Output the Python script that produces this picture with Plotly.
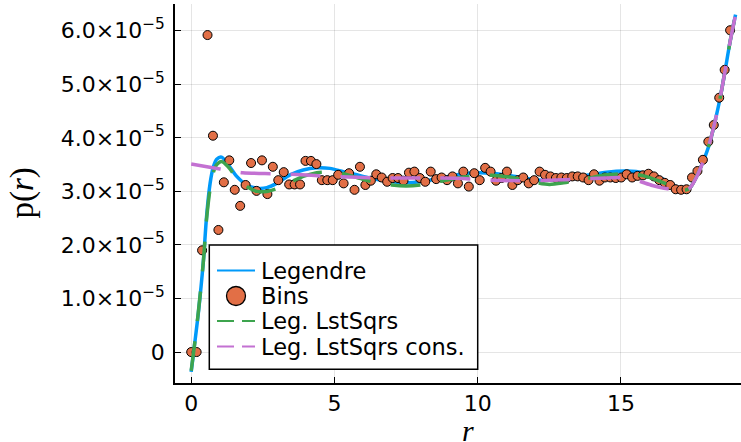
import plotly.graph_objects as go

# ---- data (probability values in units of 1e-5) ----
SCALE = 1e-5
BIN_WIDTH = 0.19

P_BINS = [
    0.00, 0.00, 1.90, 5.92, 4.04, 2.28, 3.17, 3.58, 3.03, 2.73,
    3.12, 3.53, 3.01, 3.58, 2.95, 3.46, 3.21, 3.36, 3.13, 3.13,
    3.13, 3.57, 3.57, 3.51, 3.21, 3.21, 3.21, 3.31, 3.15, 3.34,
    3.03, 3.46, 3.12, 3.20, 3.32, 3.26, 3.18, 3.25, 3.25, 3.20,
    3.35, 3.37, 3.25, 3.18, 3.37, 3.23, 3.26, 3.21, 3.28, 3.15,
    3.37, 3.09, 3.34, 3.21, 3.44, 3.37, 3.20, 3.25, 3.37, 3.12,
    3.21, 3.26, 3.15, 3.21, 3.37, 3.31, 3.28, 3.25, 3.26, 3.25,
    3.28, 3.28, 3.26, 3.21, 3.32, 3.20, 3.26, 3.26, 3.25, 3.26,
    3.32, 3.26, 3.29, 3.30, 3.33, 3.28, 3.21, 3.16, 3.12, 3.04,
    3.03, 3.04, 3.26, 3.38, 3.59, 3.93, 4.24, 4.75, 5.27, 6.01,
]
R_BINS = [BIN_WIDTH * i for i in range(len(P_BINS))]

# Legendre series
R_LEG = [0.0, 0.12, 0.25, 0.42, 0.54, 0.66, 0.77, 0.89, 1.06, 1.29, 1.59, 1.94,
         2.29, 2.64, 2.98, 3.45, 3.91, 4.38, 4.84, 5.31, 5.78, 6.24, 7.0, 7.5,
         8.0, 8.7, 9.5, 10.0, 10.5, 11.2, 12.0, 12.5, 13.0, 13.8, 14.5, 15.2,
         15.8, 16.4, 16.9, 17.2, 17.4, 17.64, 17.87, 18.08, 18.28, 18.46, 18.63,
         18.81, 19.0]
P_LEG = [-0.37, 0.15, 0.73, 1.66, 2.55, 3.15, 3.45, 3.60, 3.64, 3.50, 3.28, 3.12,
         3.06, 3.07, 3.15, 3.31, 3.40, 3.44, 3.43, 3.37, 3.31, 3.25, 3.18, 3.16,
         3.18, 3.25, 3.33, 3.35, 3.34, 3.29, 3.22, 3.21, 3.23, 3.30, 3.36, 3.38,
         3.35, 3.25, 3.10, 3.02, 3.06, 3.28, 3.56, 3.87, 4.30, 4.74, 5.24,
         5.80, 6.30]

# Legendre least squares
R_LSQ = R_LEG
P_LSQ = [-0.35, 0.15, 0.75, 1.66, 2.50, 3.05, 3.35, 3.50, 3.56, 3.46, 3.25, 3.09,
         3.00, 3.00, 3.05, 3.17, 3.28, 3.35, 3.36, 3.33, 3.26, 3.19, 3.12, 3.10,
         3.12, 3.19, 3.27, 3.30, 3.30, 3.26, 3.17, 3.13, 3.16, 3.24, 3.31, 3.33,
         3.29, 3.18, 3.07, 3.02, 3.06, 3.28, 3.56, 3.88, 4.30, 4.74, 5.24,
         5.80, 6.30]

# Legendre least squares, constrained
R_CON = [0.0, 1.0, 1.8, 2.8, 3.5, 4.5, 5.5, 6.5, 7.5, 8.5, 9.5, 10.5, 11.5,
         12.5, 13.5, 14.5, 15.0, 15.4, 15.7, 16.1, 16.5, 16.9, 17.2, 17.4,
         17.64, 17.87, 18.08, 18.28, 18.46, 18.63, 18.81, 19.0]
P_CON = [3.51, 3.42, 3.35, 3.33, 3.32, 3.29, 3.27, 3.25, 3.25, 3.25, 3.24, 3.21,
         3.20, 3.21, 3.23, 3.25, 3.26, 3.23, 3.18, 3.11, 3.06, 3.03, 3.02, 3.06,
         3.27, 3.56, 3.88, 4.30, 4.74, 5.24, 5.80, 6.30]

X_TICKS = [0, 5, 10, 15]
Y_TICKS = [0, 1, 2, 3, 4, 5, 6]
Y_TICK_TEXT = ["0"] + [f"{v:.1f}×10<sup>−5</sup>" for v in Y_TICKS[1:]]

LEGEND_LABELS = ["Legendre", "Bins", "Leg. LstSqrs", "Leg. LstSqrs cons."]

BLUE = "#009AFA"
ORANGE = "#E26F46"
GREEN = "#3DA44E"
PURPLE = "#C371D2"

# figure geometry (pixels)
W, H = 741, 442
M_L, M_R, M_T, M_B = 175, 0, 4, 59
PLOT_W = W - M_L - M_R
PLOT_H = H - M_T - M_B


def scaled(vals):
    return [v * SCALE for v in vals]


def px(x):
    """Horizontal pixel position -> paper coordinate."""
    return (x - M_L) / PLOT_W


def py(y):
    """Vertical pixel position (from top) -> paper coordinate."""
    return (H - M_B - y) / PLOT_H


fig = go.Figure()

fig.add_trace(go.Scatter(x=R_LEG, y=scaled(P_LEG), mode="lines", name=LEGEND_LABELS[0],
                         line=dict(color=BLUE, width=3.5, shape="spline", smoothing=0.8),
                         showlegend=False))
fig.add_trace(go.Scatter(x=R_BINS, y=scaled(P_BINS), mode="markers", name=LEGEND_LABELS[1],
                         marker=dict(color=ORANGE, size=9, line=dict(color="black", width=1)),
                         showlegend=False))
fig.add_trace(go.Scatter(x=R_LSQ, y=scaled(P_LSQ), mode="lines", name=LEGEND_LABELS[2],
                         line=dict(color=GREEN, width=3.5, dash="30px,20px", shape="spline", smoothing=0.8),
                         showlegend=False))
fig.add_trace(go.Scatter(x=R_CON, y=scaled(P_CON), mode="lines", name=LEGEND_LABELS[3],
                         line=dict(color=PURPLE, width=3.5, dash="30px,20px", shape="spline", smoothing=0.8),
                         showlegend=False))

axis_common = dict(showline=True, linecolor="black", linewidth=1.5,
                   showgrid=True, gridcolor="rgba(0,0,0,0.1)", gridwidth=1,
                   zeroline=False, ticks="inside", ticklen=6, tickwidth=1.2,
                   tickcolor="black", tickfont=dict(family="DejaVu Sans", size=22, color="black"))

fig.update_xaxes(range=[-0.565, 19.19], tickvals=X_TICKS, ticktext=[str(v) for v in X_TICKS],
                 **axis_common)
fig.update_yaxes(range=[-0.578 * SCALE, 6.5 * SCALE], tickvals=scaled(Y_TICKS),
                 ticktext=Y_TICK_TEXT, ticklabelstandoff=4, **axis_common)

# ---- legend box drawn in paper space ----
LEG_BOX = (209.3, 245, 477.7, 369.3)
ROW_Y = [270.5, 296, 321, 346.5]
SYM_X0, SYM_X1, TEXT_X = 217, 255, 259

shapes = [dict(type="rect", xref="paper", yref="paper", layer="above",
               x0=px(LEG_BOX[0]), x1=px(LEG_BOX[2]), y0=py(LEG_BOX[3]), y1=py(LEG_BOX[1]),
               fillcolor="white", line=dict(color="black", width=1.5))]
for ry, color, dash in [(ROW_Y[0], BLUE, "solid"), (ROW_Y[2], GREEN, "17px,8px"),
                        (ROW_Y[3], PURPLE, "17px,8px")]:
    shapes.append(dict(type="line", xref="paper", yref="paper", layer="above",
                       x0=px(SYM_X0), x1=px(SYM_X1), y0=py(ry), y1=py(ry),
                       line=dict(color=color, width=2, dash=dash)))
cx, cy, rad = 236, ROW_Y[1], 9.5
shapes.append(dict(type="circle", xref="paper", yref="paper", layer="above",
                   x0=px(cx - rad), x1=px(cx + rad), y0=py(cy + rad), y1=py(cy - rad),
                   fillcolor=ORANGE, line=dict(color="black", width=1.3)))

annotations = [
    dict(text=label, xref="paper", yref="paper", x=px(TEXT_X), y=py(ry),
         xanchor="left", yanchor="middle", showarrow=False,
         font=dict(family="DejaVu Sans", size=22.5, color="black"))
    for label, ry in zip(LEGEND_LABELS, ROW_Y)
]
annotations += [
    dict(text="<i>r</i>", xref="paper", yref="paper", x=px(468), y=py(430),
         xanchor="center", yanchor="middle", showarrow=False,
         font=dict(family="Liberation Serif", size=30, color="black")),
    dict(text="p(<i>r</i>)", xref="paper", yref="paper", x=px(22), y=0.5,
         xanchor="center", yanchor="middle", textangle=-90, showarrow=False,
         font=dict(family="Liberation Serif", size=33, color="black")),
]

fig.update_layout(
    width=W, height=H, autosize=False,
    margin=dict(l=M_L, r=M_R, t=M_T, b=M_B),
    plot_bgcolor="white", paper_bgcolor="white",
    font=dict(family="DejaVu Sans", size=22, color="black"),
    showlegend=False,
    shapes=shapes,
    annotations=annotations,
)

fig.write_html("out.html")
